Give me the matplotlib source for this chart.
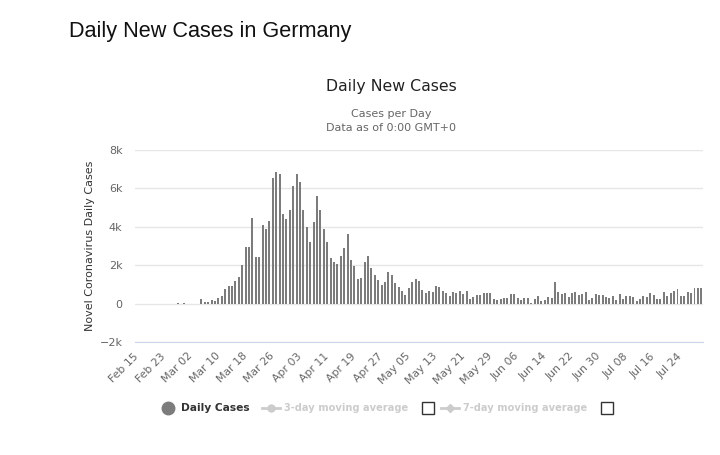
import matplotlib
matplotlib.use("Agg")
import matplotlib.pyplot as plt
import numpy as np
import pandas as pd
from matplotlib.lines import Line2D
from matplotlib.patches import Rectangle

# daily new cases, one value per day from Feb 15
start_date = "2020-02-15"
daily_cases = [
    0, 0, 0, 0, 0, 0, 0, 0, 0, 0,                       # Feb 15 - Feb 24
    0, 5, 30, 5, 40,                                     # Feb 25 - Feb 29
    0, 0, 0, 0, 240, 90, 70, 170, 140, 290,              # Mar 01 - Mar 10
    380, 760, 900, 900, 1170, 1410, 2030, 2930, 2930, 4480,
    2450, 2450, 4100, 3860, 4290, 6550, 6840, 6740, 4670, 4400,
    4860,                                                # Mar 31
    6100, 6760, 6330, 4860, 3970, 3210, 4260, 5590, 4860, 3880,   # Apr
    3210, 2380, 2170, 2070, 2500, 2900, 3640, 2280, 1980, 1280,
    1330, 2160, 2470, 1860, 1470, 1220, 960, 1140, 1650, 1470,
    1070, 860, 650, 440, 810, 1150, 1260, 1160, 730, 560,         # May
    670, 600, 910, 850, 670, 540, 390, 600, 560, 670,
    490, 670, 260, 320, 440, 470, 560, 550, 530, 250,
    180,
    260, 300, 300, 480, 480, 300, 180, 300, 300, 40,              # Jun
    250, 420, 160, 210, 320, 300, 1120, 580, 510, 530,
    350, 560, 610, 440, 490, 580, 210, 280, 510, 440,
    470, 330, 280, 420, 180, 490, 260, 370, 390, 330,             # Jul
    160, 250, 420, 350, 530, 460, 230, 250, 600, 390,
    560, 650, 770, 370, 420, 630, 530, 790, 810, 800,
]
tick_every = 8
y_ticks = [-2000, 0, 2000, 4000, 6000, 8000]
y_tick_labels = ["\u22122k", "0", "2k", "4k", "6k", "8k"]

dates = pd.date_range(start_date, periods=len(daily_cases), freq="D")
x = np.arange(len(daily_cases))

fig = plt.figure(figsize=(7.2, 4.55), dpi=100)
ax = fig.add_axes([135 / 720, 1 - 342 / 455, 568 / 720, 192 / 455])

ax.bar(x, daily_cases, width=0.58, color="#7c7c7c", zorder=2)

ax.set_xlim(-0.5, len(daily_cases) - 0.5)
ax.set_ylim(-2000, 8000)
ax.set_yticks(y_ticks)
ax.set_yticklabels(y_tick_labels)
ax.grid(axis="y", color="#e6e6e6", linewidth=1)
ax.set_axisbelow(True)

ax.set_xticks(x[::tick_every])
ax.set_xticklabels([d.strftime("%b %d") for d in dates[::tick_every]])

for side in ["top", "right", "left"]:
    ax.spines[side].set_visible(False)
ax.spines["bottom"].set_color("#ccd6eb")
ax.tick_params(axis="y", length=0, pad=9, labelsize=8, labelcolor="#666666")
ax.tick_params(axis="x", length=0, pad=9, labelsize=7.8, labelcolor="#666666")
plt.setp(ax.get_xticklabels(), rotation=45, ha="right", va="center",
         rotation_mode="anchor")

ax.set_ylabel("Novel Coronavirus Daily Cases", fontsize=8, color="#333333", labelpad=3)

# titles
fig.text(69 / 720, 1 - 31 / 455, "Daily New Cases in Germany", fontsize=15.6,
         family="Liberation Sans", color="#111111", va="center", ha="left")
fig.text(391 / 720, 1 - 86 / 455, "Daily New Cases", fontsize=11.3,
         color="#222222", va="center", ha="center")
fig.text(391 / 720, 1 - 114 / 455, "Cases per Day", fontsize=8,
         color="#666666", va="center", ha="center")
fig.text(391 / 720, 1 - 128 / 455, "Data as of 0:00 GMT+0", fontsize=8,
         color="#666666", va="center", ha="center")

# legend, drawn by hand so the checkboxes fit
ly = 1 - 408 / 455
fig.add_artist(Line2D([168 / 720], [ly], marker="o", markersize=9,
                      color="#7c7c7c", transform=fig.transFigure))
fig.text(181 / 720, ly, "Daily Cases", fontsize=7.7, fontweight="bold",
         color="#333333", va="center", ha="left")

legend_grey = "#cccccc"
for x0, mk, label, box_x in [(262, "o", "3-day moving average", 422),
                             (441, "D", "7-day moving average", 601)]:
    fig.add_artist(Line2D([x0 / 720, (x0 + 18) / 720], [ly, ly], color=legend_grey,
                          linewidth=2, transform=fig.transFigure))
    fig.add_artist(Line2D([(x0 + 9) / 720], [ly], marker=mk,
                          markersize=5 if mk == "o" else 4,
                          color=legend_grey, transform=fig.transFigure))
    fig.text((x0 + 22) / 720, ly, label, fontsize=7.1, fontweight="bold",
             color=legend_grey, va="center", ha="left")
    fig.add_artist(Rectangle((box_x / 720, 1 - 414 / 455), 12 / 720, 12 / 455,
                             fill=False, edgecolor="#333333", linewidth=1,
                             transform=fig.transFigure))

fig.savefig("out.png", dpi=100, facecolor="white")
